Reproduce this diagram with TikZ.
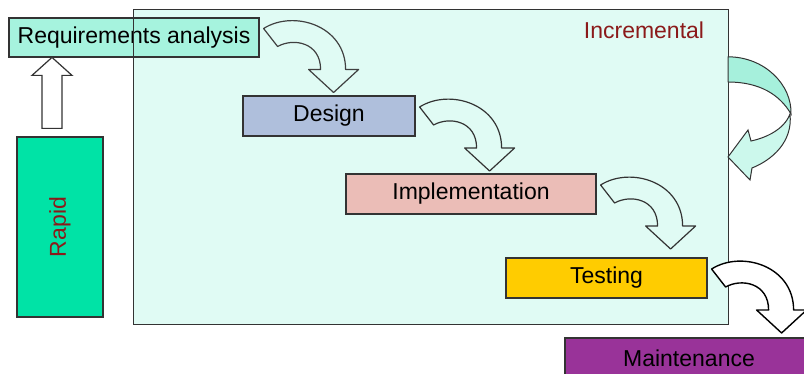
\documentclass[tikz,border=0pt]{standalone}
\usepackage{fontspec}
\setmainfont{Liberation Sans}
\usetikzlibrary{calc,positioning}

\definecolor{incfill}{HTML}{E0FBF4}
\definecolor{reqfill}{HTML}{A6F3DE}
\definecolor{rapidfill}{HTML}{00E3A6}
\definecolor{designfill}{HTML}{AFBFDC}
\definecolor{implfill}{HTML}{EBBDB7}
\definecolor{testfill}{HTML}{FFCC00}
\definecolor{maintfill}{HTML}{993399}
\definecolor{loopdark}{HTML}{A6F0DC}
\definecolor{looplight}{HTML}{CCF8EC}
\definecolor{labelred}{HTML}{8B1A1A}

\tikzset{
    stage/.style={draw=black!80, line width=1.2pt, inner sep=0pt, minimum height=40pt,
        font=\fontsize{23}{27}\selectfont},
    bendarrow/.pic={
        \draw[pic actions] (4,-9) .. controls (34,-28) and (86,-12) .. (86,32) -- (99,32)
            -- (74,55) -- (49,32) -- (61,32) .. controls (61,5) and (34,0) .. (18,9) -- cycle;
    },
}

\begin{document}
\begin{tikzpicture}[x=1pt,y=-1pt]
        \useasboundingbox (0,0) rectangle (804,374);
        \clip (0,0) rectangle (804,374);
        % incremental frame
        \node[fill=incfill, inner sep=0pt, minimum width=594pt, minimum height=314pt] (inc) at (431,167) {};
        \node[stage, fill=reqfill, minimum width=250pt, minimum height=39pt] (req) at (134,37.5) {Requirements analysis};
        \draw[black!80, line width=1.2pt] (inc.north west) rectangle (inc.south east);
        \node[text=labelred, font=\fontsize{23}{27}\selectfont] (inclabel) at (644,30) {Incremental};
        % stages
        \node[stage, fill=designfill, minimum width=172pt] (design) at (329,116) {Design};
        \node[stage, fill=implfill, minimum width=250pt] (impl) at (471,194) {Implementation};
        \node[stage, fill=testfill, minimum width=201pt] (test) at (606.5,278) {Testing};
        \node[stage, fill=maintfill, minimum width=248pt] (maint) at (689,358) {Maintenance};
        \node[stage, fill=rapidfill, minimum width=86pt, minimum height=180pt] (rapid) at (60,227) {};
        \node[text=labelred, rotate=90, font=\fontsize{23}{27}\selectfont] (rapidlabel) at (rapid.center) {Rapid};
        % bent arrows between stages
        \pic[draw=black!75, line width=1.2pt, line join=round] at (req.east) {bendarrow};
        \pic[draw=black!80, line width=1.2pt, line join=round] at (design.east) {bendarrow};
        \pic[draw=black!80, line width=1.2pt, line join=round] at (impl.east) {bendarrow};
        \pic[draw=black, fill=white, line width=1.4pt, line join=round] at (test.east) {bendarrow};
        % rapid up arrow
        \draw[black!80, fill=white, line width=1.2pt] ($(rapid.north)+(-18,-8)$) -- ++(0,-53) -- ++(-10,0)
            -- ++(20,-18) -- ++(20,18) -- ++(-10,0) -- ++(0,53) -- cycle;
        % loop back on the incremental frame
        \coordinate (loopin) at ($(inc.north east)+(0,47)$);
        \draw[black!80, line width=1pt, fill=looplight] (790,114) .. controls (784,130) and (765,138) .. (751,141)
            -- (748,130) -- (728,157) -- (750,180) -- (752,168) .. controls (772,160) and (793,142) .. (790,114) -- cycle;
        \draw[black!80, line width=1pt, fill=loopdark] (loopin) .. controls (765,57) and (792,85) .. (791,114)
            .. controls (780,95) and (760,82) .. (728,82) -- cycle;
    \end{tikzpicture}
\end{document}
